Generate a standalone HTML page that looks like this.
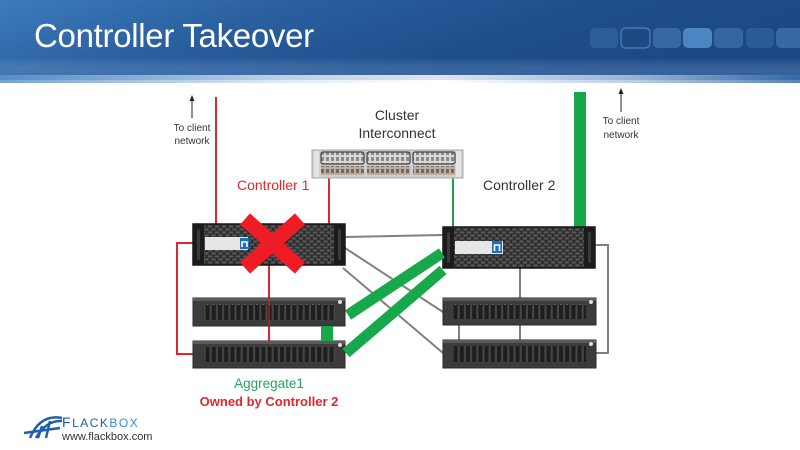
<!DOCTYPE html>
<html><head><meta charset="utf-8"><style>
html,body{margin:0;padding:0;background:#fff;}
body{width:800px;height:450px;overflow:hidden;position:relative;font-family:"Liberation Sans",sans-serif;}
svg{position:absolute;left:0;top:0;}
</style></head><body>
<svg width="800" height="450" viewBox="0 0 800 450" xmlns="http://www.w3.org/2000/svg">
<defs>
  <linearGradient id="hdr" x1="0" y1="0" x2="1" y2="0.3">
    <stop offset="0" stop-color="#3d7bbb"/>
    <stop offset="0.35" stop-color="#2a5f9f"/>
    <stop offset="0.7" stop-color="#1f4e8c"/>
    <stop offset="1" stop-color="#1c4886"/>
  </linearGradient>
  <linearGradient id="glow" x1="0" y1="0" x2="1" y2="0">
    <stop offset="0" stop-color="#5d93cc"/>
    <stop offset="0.35" stop-color="#d8e6f4"/>
    <stop offset="0.55" stop-color="#ffffff"/>
    <stop offset="0.8" stop-color="#a9c4e2"/>
    <stop offset="1" stop-color="#3a6cab"/>
  </linearGradient>
  <linearGradient id="hdrbot" x1="0" y1="0" x2="0" y2="1">
    <stop offset="0" stop-color="#ffffff" stop-opacity="0"/>
    <stop offset="1" stop-color="#5a8fcb" stop-opacity="0.35"/>
  </linearGradient>
  <pattern id="hex" width="7" height="6" patternUnits="userSpaceOnUse">
    <rect width="7" height="6" fill="#2c2c2c"/>
    <ellipse cx="3.5" cy="1.5" rx="2.4" ry="1.2" fill="#575757"/>
    <ellipse cx="0" cy="4.5" rx="2.4" ry="1.2" fill="#575757"/>
    <ellipse cx="7" cy="4.5" rx="2.4" ry="1.2" fill="#575757"/>
  </pattern>
  <pattern id="slots" width="6.2" height="30" patternUnits="userSpaceOnUse">
    <rect width="6.2" height="30" fill="#454545"/>
    <rect x="1" y="0" width="4" height="30" fill="#1e1e1e"/>
    <rect x="2" y="3" width="2" height="2" fill="#6a6a6a"/>
  </pattern>
  <pattern id="ports" width="5" height="6" patternUnits="userSpaceOnUse">
    <rect width="5" height="6" fill="#b9aea4"/>
    <rect x="1" y="1" width="3" height="4" fill="#7b675a"/>
  </pattern>
  <pattern id="ports2" width="5" height="6" patternUnits="userSpaceOnUse">
    <rect width="5" height="6" fill="#d8d8d8"/>
    <rect x="1" y="1" width="3" height="4" fill="#8a8a8a"/>
  </pattern>
</defs>

<!-- header -->
<rect x="0" y="0" width="800" height="80" fill="url(#hdr)"/>
<rect x="0" y="58" width="800" height="18" fill="url(#hdrbot)"/>
<rect x="0" y="75" width="800" height="8" fill="url(#glow)" opacity="0.85"/>
<text x="34" y="47" font-family="Liberation Sans, sans-serif" font-size="33" fill="#ffffff" letter-spacing="-0.3">Controller Takeover</text>
<g>
  <rect x="590" y="28" width="28" height="20" rx="5" fill="#2e5e99"/>
  <rect x="621" y="28" width="29" height="20" rx="5" fill="#1d4984" stroke="#4f80bb" stroke-width="1.2"/>
  <rect x="653" y="28" width="28" height="20" rx="5" fill="#3868a4"/>
  <rect x="683" y="28" width="29" height="20" rx="5" fill="#4d85c3"/>
  <rect x="714" y="28" width="29" height="20" rx="5" fill="#3565a1"/>
  <rect x="746" y="28" width="28" height="20" rx="5" fill="#2c5c97"/>
  <rect x="776" y="28" width="30" height="20" rx="5" fill="#3969a5"/>
</g>

<!-- connectors behind -->
<g stroke="#808080" stroke-width="2" fill="none">
  <line x1="345" y1="237" x2="443" y2="235"/>
  <line x1="345" y1="248" x2="443" y2="312"/>
  <line x1="343" y1="268" x2="443" y2="353"/>
  <line x1="520" y1="268" x2="520" y2="298"/>
  <line x1="520" y1="325" x2="520" y2="341"/>
  <line x1="459" y1="325" x2="459" y2="341"/>
  <polyline points="595,245 608,245 608,353 596,353"/>
</g>
<g stroke="#e3262b" stroke-width="2" fill="none">
  <line x1="216" y1="97" x2="216" y2="224"/>
  <line x1="329" y1="178" x2="329" y2="224"/>
  <polyline points="193,243 177,243 177,354 193,354"/>
  <line x1="269" y1="265" x2="269" y2="298"/>
  <line x1="269" y1="326" x2="269" y2="341"/>
</g>
<line x1="453" y1="178" x2="453" y2="227" stroke="#1aa34a" stroke-width="2"/>
<rect x="574" y="92" width="12" height="136" fill="#16a84a"/>

<!-- arrows -->
<g stroke="#222" stroke-width="1">
  <line x1="192" y1="99" x2="192" y2="118"/>
  <line x1="621" y1="92" x2="621" y2="112"/>
</g>
<polygon points="192,95 189.5,101 194.5,101" fill="#222"/>
<polygon points="621,88 618.5,94 623.5,94" fill="#222"/>

<!-- labels -->
<g font-family="Liberation Sans, sans-serif" fill="#333">
  <text x="192" y="131" font-size="10" text-anchor="middle">To client</text>
  <text x="192" y="144" font-size="10" text-anchor="middle">network</text>
  <text x="621" y="124" font-size="10" text-anchor="middle">To client</text>
  <text x="621" y="138" font-size="10" text-anchor="middle">network</text>
  <text x="397" y="120" font-size="14" text-anchor="middle">Cluster</text>
  <text x="397" y="138" font-size="14" text-anchor="middle">Interconnect</text>
  <text x="483" y="190" font-size="14">Controller 2</text>
  <text x="237" y="190" font-size="14" fill="#e3262b">Controller 1</text>
  <text x="269" y="388" font-size="13.5" fill="#1fa85a" text-anchor="middle">Aggregate1</text>
  <text x="269" y="406" font-size="13" font-weight="bold" fill="#e3262b" text-anchor="middle">Owned by Controller 2</text>
</g>

<!-- cluster switch -->
<g>
  <rect x="312" y="150" width="151" height="28" fill="#cfcfcf" stroke="#a8a8a8" stroke-width="1"/>
  <rect x="314" y="151" width="5" height="26" fill="#e4e4e4"/>
  <rect x="456" y="151" width="5" height="26" fill="#e4e4e4"/>
  <rect x="321" y="152" width="43" height="12" fill="url(#ports2)" stroke="#444" stroke-width="1.2" rx="2"/>
  <rect x="367" y="152" width="43" height="12" fill="url(#ports2)" stroke="#444" stroke-width="1.2" rx="2"/>
  <rect x="413" y="152" width="42" height="12" fill="url(#ports2)" stroke="#444" stroke-width="1.2" rx="2"/>
  <rect x="321" y="166" width="43" height="9" fill="url(#ports)"/>
  <rect x="367" y="166" width="43" height="9" fill="url(#ports)"/>
  <rect x="413" y="166" width="42" height="9" fill="url(#ports)"/>
</g>

<!-- controller 1 -->
<g>
  <rect x="193" y="224" width="152" height="41" fill="url(#hex)" stroke="#161616" stroke-width="1.5"/>
  <rect x="193" y="224" width="11" height="41" fill="#1b1b1b"/>
  <rect x="334" y="224" width="11" height="41" fill="#1b1b1b"/>
  <rect x="197" y="229" width="3" height="31" rx="1.5" fill="#3a3a3a"/>
  <rect x="338" y="229" width="3" height="31" rx="1.5" fill="#3a3a3a"/>
  <rect x="205" y="237" width="43" height="13" fill="#e6e6e6"/>
  <rect x="240" y="238" width="9" height="11" fill="#1e6fc0"/>
  <path d="M242 247 v-5 h5 v5" stroke="#fff" stroke-width="1.6" fill="none"/>
</g>
<!-- controller 2 -->
<g>
  <rect x="443" y="227" width="152" height="41" fill="url(#hex)" stroke="#161616" stroke-width="1.5"/>
  <rect x="443" y="227" width="11" height="41" fill="#1b1b1b"/>
  <rect x="584" y="227" width="11" height="41" fill="#1b1b1b"/>
  <rect x="447" y="232" width="3" height="31" rx="1.5" fill="#3a3a3a"/>
  <rect x="588" y="232" width="3" height="31" rx="1.5" fill="#3a3a3a"/>
  <rect x="455" y="241" width="48" height="13" fill="#e6e6e6"/>
  <rect x="492" y="241" width="10" height="12" fill="#1e6fc0"/>
  <path d="M494.5 251 v-6 h5 v6" stroke="#fff" stroke-width="1.6" fill="none"/>
</g>

<!-- shelves -->
<g id="shelf">
  <rect x="193" y="298" width="152" height="28" fill="#3c3c3c" stroke="#2a2a2a" stroke-width="1"/>
  <rect x="203" y="304" width="132" height="16" fill="url(#slots)"/>
  <rect x="193" y="298" width="152" height="3" fill="#5a5a5a"/>
  <circle cx="340" cy="302" r="2" fill="#ddd"/>
</g>
<g>
  <rect x="193" y="341" width="152" height="27" fill="#3c3c3c" stroke="#2a2a2a" stroke-width="1"/>
  <rect x="203" y="347" width="132" height="15" fill="url(#slots)"/>
  <rect x="193" y="341" width="152" height="3" fill="#5a5a5a"/>
  <circle cx="340" cy="345" r="2" fill="#ddd"/>
</g>
<g>
  <rect x="443" y="298" width="153" height="27" fill="#3c3c3c" stroke="#2a2a2a" stroke-width="1"/>
  <rect x="453" y="304" width="133" height="15" fill="url(#slots)"/>
  <rect x="443" y="298" width="153" height="3" fill="#5a5a5a"/>
  <circle cx="591" cy="302" r="2" fill="#ddd"/>
</g>
<g>
  <rect x="443" y="340" width="153" height="28" fill="#3c3c3c" stroke="#2a2a2a" stroke-width="1"/>
  <rect x="453" y="346" width="133" height="16" fill="url(#slots)"/>
  <rect x="443" y="340" width="153" height="3" fill="#5a5a5a"/>
  <circle cx="591" cy="344" r="2" fill="#ddd"/>
</g>
<!-- red line across shelf 1 -->
<line x1="269" y1="298" x2="269" y2="326" stroke="#c0262b" stroke-width="1.5" opacity="0.8"/>

<!-- green thick links -->
<g stroke="#16a84a" stroke-width="11" stroke-linecap="butt">
  <line x1="348" y1="315" x2="442" y2="253"/>
  <line x1="346" y1="353" x2="443" y2="270"/>
</g>
<rect x="321" y="326" width="12" height="15" fill="#16a84a"/>

<!-- red X -->
<g stroke="#ee1c24" stroke-width="15" stroke-linecap="butt">
  <line x1="245" y1="219" x2="300" y2="268"/>
  <line x1="300" y1="219" x2="245" y2="268"/>
</g>

<!-- logo -->
<g fill="none" stroke="#1f5ea8" stroke-width="2.5">
  <path d="M30 438 Q40 414 62 418"/>
  <path d="M36 438 Q46 420 62 421"/>
  <path d="M42 426 L38 438"/>
  <path d="M50 421 L46 438"/>
  <path d="M24 433 L60 428"/>
</g>
<text x="62" y="427" font-family="Liberation Sans, sans-serif" font-size="12" fill="#1f5ea8" letter-spacing="1.5"><tspan font-size="14">F</tspan>LACK<tspan fill="#3a8ad6">BOX</tspan></text>
<text x="62" y="440" font-family="Liberation Sans, sans-serif" font-size="11" fill="#333">www.flackbox.com</text>
</svg>
</body></html>
